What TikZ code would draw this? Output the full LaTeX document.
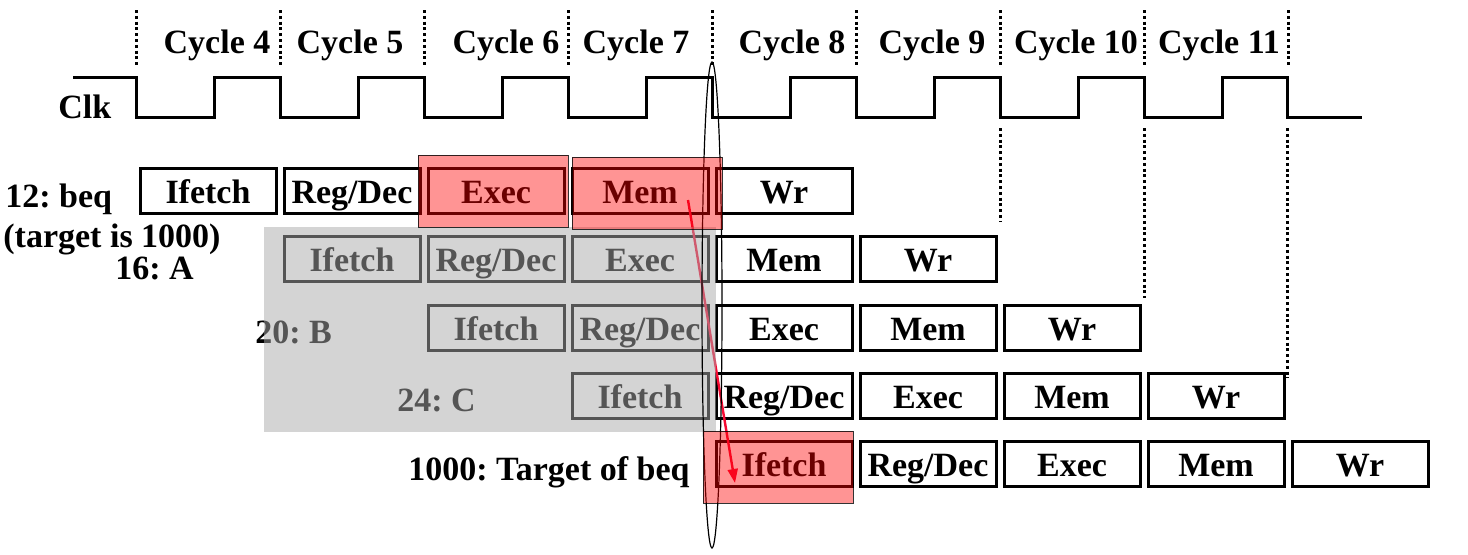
\documentclass[tikz,border=0pt]{standalone}
\usepackage{fontspec}
\setmainfont{Liberation Serif}
\usetikzlibrary{arrows.meta, calc}
\definecolor{hired}{HTML}{FF0000}
\definecolor{squashgray}{RGB}{170,170,170}
\definecolor{jumpred}{RGB}{245,10,50}

\begin{document}
\frenchspacing
\begin{tikzpicture}[x=0.5pt, y=-0.5pt,
  font=\fontsize{17}{20}\selectfont\bfseries,
  stage/.style={draw, line width=1.5pt, minimum width=68pt, minimum height=22.5pt,
    inner sep=0pt, text height=12.75pt, text depth=0pt},
  lbl/.style={anchor=base west, inner sep=0pt},
  cyc/.style={anchor=base, inner sep=0pt},
  tick/.style={line width=1.5pt, dash pattern=on 1.5pt off 1.4pt},
  clock/.style={line width=1.5pt},
  hilite/.style={draw=black, line width=0.5pt, fill=hired, fill opacity=0.42,
    draw opacity=0.8, minimum width=75pt, minimum height=36pt, inner sep=0pt},
  jump/.style={-{Triangle[length=7pt, width=5pt]}, line width=1.2pt, draw=jumpred, fill=jumpred}]
  \useasboundingbox (0,0) rectangle (1468,554);

  % cycle boundaries and clock
  \foreach \c in {0,...,8}
    \draw[tick] ({136+144*\c},10) -- ({136+144*\c},65);
  \foreach \c/\dx in {4/9,5/-2,6/10,7/-4,8/8,9/4,10/4,11/3}
    \node[cyc] (cyc\c) at ({208+144*(\c-4)+\dx},53) {Cycle \c};
  \draw[clock] (73,77) \foreach \c in {0,...,7} {
      -- ({136+144*\c},77) -- ({136+144*\c},117) -- ({214+144*\c},117) -- ({214+144*\c},77)}
    -- (1287,77) -- (1287,117) -- (1362,117);
  \node[lbl] (clk) at (58,118) {Clk};
  \draw[tick] (1000,128) -- (1000,222);
  \draw[tick] (1144,128) -- (1144,298);
  \draw[tick] (1287,128) -- (1287,378);

  % pipeline stages, one row per instruction
  \foreach \r/\y in {0/191,1/259,2/328,3/396,4/464}
    \foreach \t [count=\s from 0] in {Ifetch,{Reg/Dec},Exec,Mem,Wr}
      \node[stage] (s\r\s) at ({208+144*(\r+\s)},\y) {\t};

  \node[lbl] (beq) at (5,207) {12: beq};
  \node[lbl] (tgt) at (3,247) {(target is 1000)};
  \node[lbl] (insA) at (115,279) {16: A};
  \node[lbl] (insB) at (255,343) {20: B};
  \node[lbl] (insC) at (397,411) {24: C};
  \node[lbl] (target) at (408,480) {1000: Target of beq};

  \draw[jump] ($(s03)+(48,9)$) -- ($(s40)+(-49,19)$);

  % squashed instructions
  \fill[squashgray, opacity=0.5] (264,227) rectangle (716,432);

  \draw[line width=0.6pt] (712,305) ellipse [x radius=5pt, y radius=121.5pt];

  \node[hilite] (hexec) at ($(s02)+(-3,0)$) {};
  \node[hilite] (hmem) at ($(s03)+(7,2)$) {};
  \node[hilite] (hfetch) at ($(s40)+(-6,3)$) {};
\end{tikzpicture}
\end{document}
